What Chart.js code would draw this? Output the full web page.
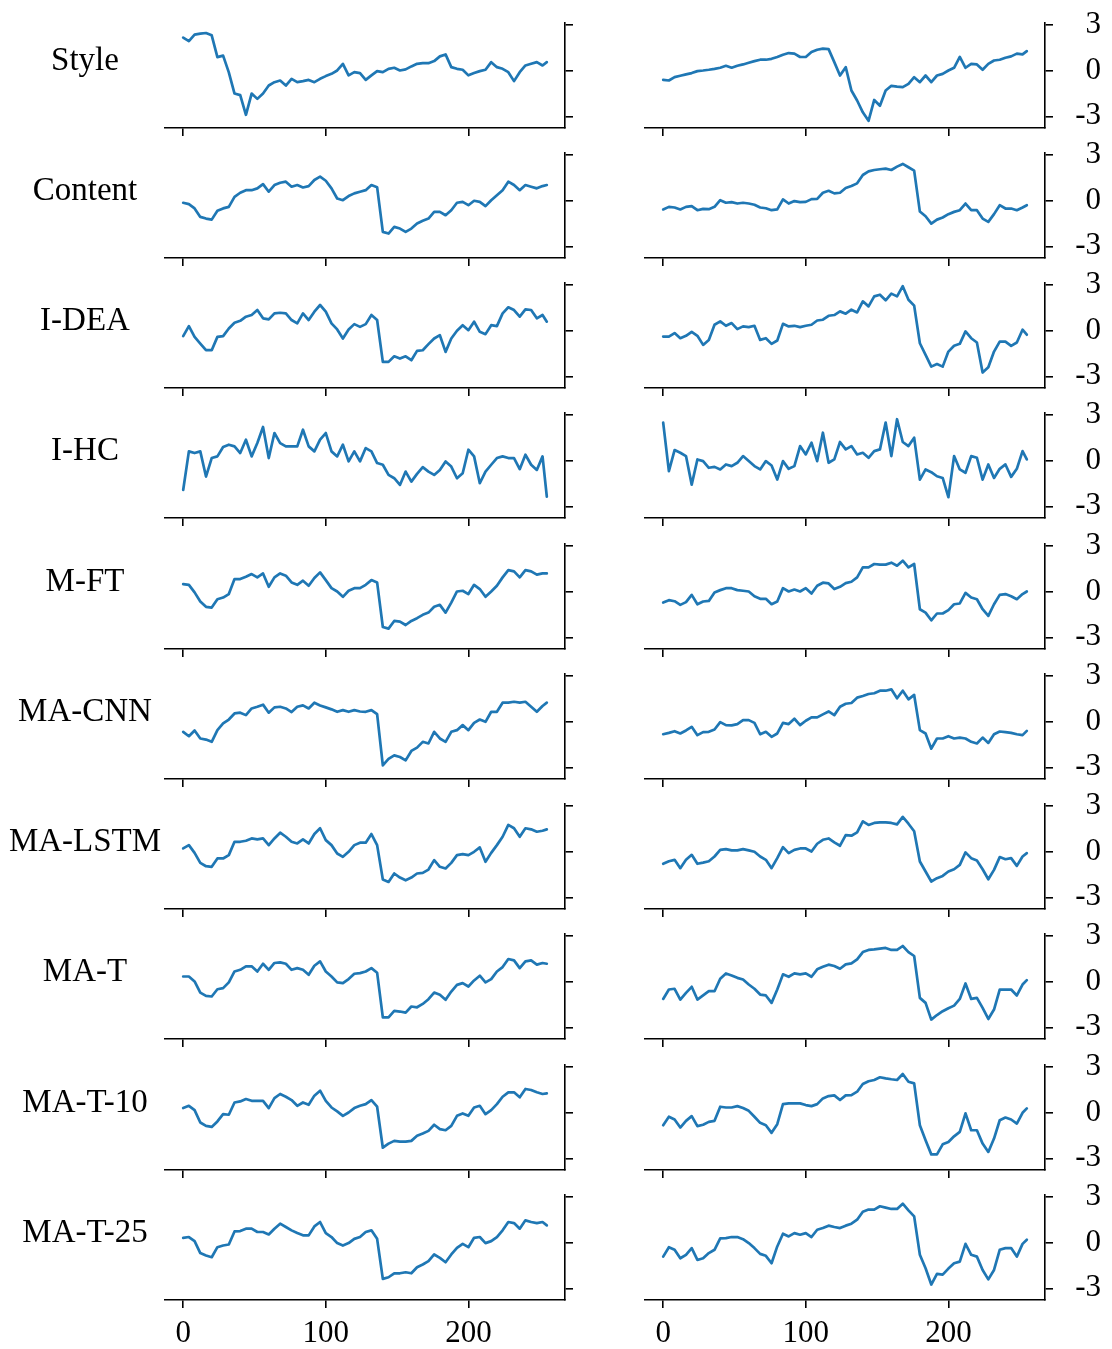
<!DOCTYPE html>
<html><head><meta charset="utf-8">
<script src="https://cdn.jsdelivr.net/npm/chart.js@4.4.1/dist/chart.umd.min.js"></script>
<style>
html,body{margin:0;padding:0;background:#fff;overflow:hidden;}
body{width:1112px;height:1349px;position:relative;}
canvas{position:absolute;}
</style></head><body>
<script>
const steps = [0,4,8,12,16,20,24,28,32,36,40,44,48,52,56,60,64,68,72,76,80,84,88,92,96,100,104,108,112,116,120,124,128,132,136,140,144,148,152,156,160,164,168,172,176,180,184,188,192,196,200,204,208,212,216,220,224,228,232,236,240,244,248,252,255];

const rowLabels = ['Style','Content','I-DEA','I-HC','M-FT','MA-CNN','MA-LSTM','MA-T','MA-T-10','MA-T-25'];
const xTicks = [0,100,200];
const xTickLabels = ['0','100','200'];
const yTicks = [-3,0,3];
const yTickLabels = ['-3','0','3'];

// left column
const styleL = [2.19,1.96,2.38,2.45,2.49,2.34,0.9,1.0,-0.1,-1.5,-1.6,-2.9,-1.5,-1.85,-1.5,-0.97,-0.75,-0.64,-0.97,-0.53,-0.75,-0.68,-0.6,-0.75,-0.53,-0.35,-0.2,0.02,0.46,-0.3,-0.09,-0.15,-0.6,-0.3,-0.02,-0.09,0.13,0.2,0.02,0.09,0.29,0.46,0.5,0.5,0.64,0.95,1.08,0.24,0.13,0.07,-0.3,-0.15,-0.02,0.07,0.57,0.24,0.13,-0.09,-0.68,-0.09,0.35,0.46,0.57,0.35,0.57];
const contentL = [-0.13,-0.22,-0.5,-1.06,-1.17,-1.24,-0.66,-0.5,-0.4,0.26,0.53,0.7,0.7,0.82,1.1,0.6,1.04,1.19,1.26,0.93,1.04,0.88,0.97,1.37,1.59,1.32,0.82,0.15,0.04,0.31,0.49,0.6,0.7,1.04,0.9,-2.05,-2.16,-1.72,-1.83,-2.05,-1.83,-1.5,-1.32,-1.17,-0.73,-0.73,-0.95,-0.62,-0.13,-0.07,-0.29,0,-0.07,-0.35,0.04,0.37,0.7,1.26,1.04,0.7,1.04,0.93,0.82,0.97,1.04];
const ideaL = [-0.35,0.31,-0.4,-0.84,-1.28,-1.28,-0.4,-0.35,0.15,0.53,0.66,0.93,1.04,1.37,0.82,0.75,1.15,1.19,1.15,0.71,0.49,1.15,0.71,1.26,1.7,1.26,0.49,0.09,-0.51,0.09,0.44,0.26,0.44,1.04,0.71,-2.05,-2.05,-1.68,-1.83,-1.68,-1.94,-1.32,-1.28,-0.88,-0.51,-0.29,-1.39,-0.51,0,0.37,0.04,0.6,-0.07,-0.22,0.37,0.31,1.15,1.55,1.37,0.93,1.41,1.37,0.82,1.04,0.6];
const hcL = [-1.92,0.62,0.51,0.62,-1.04,0.18,0.29,0.91,1.06,0.95,0.51,1.39,0.29,1.17,2.23,0.18,1.83,1.17,0.95,0.95,0.95,2.05,0.95,0.62,1.39,1.83,0.62,0.29,1.06,-0.04,0.62,-0.04,0.84,0.62,-0.15,-0.26,-0.93,-1.15,-1.59,-0.71,-1.37,-0.86,-0.42,-0.71,-0.93,-0.6,-0.04,-0.38,-1.15,-0.82,0.73,0.29,-1.48,-0.71,-0.26,0.18,0.29,0.18,0.18,-0.55,0.4,-0.26,-0.6,0.29,-2.36];
const mftL = [0.51,0.46,-0.04,-0.64,-0.99,-1.04,-0.49,-0.38,-0.15,0.84,0.84,0.99,1.17,0.95,1.21,0.33,0.95,1.21,1.06,0.62,0.46,0.73,0.4,0.91,1.28,0.77,0.24,0.02,-0.33,0.07,0.24,0.24,0.46,0.77,0.62,-2.32,-2.43,-1.92,-1.96,-2.19,-1.92,-1.74,-1.52,-1.37,-0.99,-0.86,-1.37,-0.71,0.02,0.07,-0.15,0.46,0.18,-0.33,0.02,0.4,0.95,1.43,1.35,0.95,1.43,1.35,1.13,1.21,1.21];
const cnnL = [-0.66,-0.95,-0.57,-1.1,-1.17,-1.32,-0.55,-0.11,0.15,0.55,0.6,0.44,0.88,0.99,1.13,0.6,0.95,0.99,0.88,0.64,0.99,1.08,0.88,1.26,1.08,0.95,0.82,0.66,0.77,0.66,0.77,0.68,0.66,0.77,0.5,-2.87,-2.45,-2.21,-2.32,-2.54,-1.92,-1.7,-1.32,-1.43,-0.66,-1.1,-1.32,-0.66,-0.55,-0.22,-0.55,-0.07,0.15,0,0.66,0.66,1.26,1.26,1.32,1.26,1.32,0.99,0.66,1.04,1.26];
const lstmL = [0.22,0.44,-0.07,-0.73,-0.95,-0.99,-0.44,-0.44,-0.22,0.66,0.66,0.73,0.88,0.82,0.88,0.44,0.88,1.26,0.99,0.66,0.55,0.82,0.55,1.17,1.55,0.77,0.44,-0.11,-0.33,0,0.44,0.6,0.6,1.17,0.44,-1.83,-1.99,-1.43,-1.7,-1.88,-1.7,-1.43,-1.39,-1.17,-0.55,-0.99,-1.1,-0.73,-0.22,-0.15,-0.22,0,0.29,-0.66,-0.07,0.44,0.99,1.77,1.55,0.99,1.55,1.48,1.32,1.39,1.48];
const maTL = [0.35,0.35,0.02,-0.71,-0.93,-0.97,-0.49,-0.42,-0.04,0.68,0.79,1.02,1.02,0.68,1.19,0.79,1.24,1.28,1.19,0.79,0.9,0.79,0.46,1.06,1.35,0.68,0.35,-0.04,-0.09,0.18,0.53,0.57,0.68,0.9,0.6,-2.34,-2.34,-1.92,-1.96,-2.03,-1.63,-1.68,-1.46,-1.15,-0.71,-0.86,-1.19,-0.64,-0.2,-0.09,-0.31,0.09,0.4,-0.04,0.18,0.68,0.97,1.5,1.41,0.9,1.35,1.41,1.13,1.24,1.19];
const t10L = [0.31,0.46,0.18,-0.64,-0.86,-0.93,-0.57,-0.09,-0.13,0.68,0.75,0.91,0.79,0.79,0.79,0.31,0.97,1.24,1.06,0.84,0.46,0.68,0.53,1.13,1.46,0.79,0.35,0.09,-0.2,0.02,0.31,0.46,0.57,0.84,0.4,-2.3,-2.03,-1.85,-1.9,-1.9,-1.85,-1.52,-1.37,-1.19,-0.79,-1.08,-1.15,-0.86,-0.2,-0.04,-0.2,0.35,0.46,-0.09,0.18,0.57,1.06,1.35,1.35,1.02,1.57,1.5,1.35,1.24,1.28];
const t25L = [0.33,0.38,0.11,-0.68,-0.84,-0.95,-0.29,-0.18,-0.11,0.75,0.77,0.93,0.93,0.71,0.71,0.55,0.93,1.26,1.04,0.82,0.64,0.49,0.49,1.08,1.37,0.64,0.38,-0.02,-0.18,-0.02,0.26,0.38,0.71,0.82,0.26,-2.38,-2.27,-2.01,-2.01,-1.94,-2.01,-1.61,-1.43,-1.21,-0.77,-0.99,-1.28,-0.77,-0.33,-0.07,-0.29,0.33,0.38,-0.02,0.11,0.38,0.82,1.37,1.3,0.93,1.48,1.37,1.3,1.37,1.15];

// right column
const styleR = [-0.6,-0.64,-0.42,-0.33,-0.24,-0.15,-0.02,0.02,0.07,0.13,0.2,0.33,0.2,0.33,0.42,0.53,0.64,0.73,0.73,0.79,0.91,1.06,1.17,1.13,0.91,0.91,1.24,1.39,1.46,1.43,0.57,-0.31,0.24,-1.3,-1.96,-2.74,-3.3,-1.92,-2.3,-1.3,-0.99,-1.04,-1.08,-0.86,-0.42,-0.75,-0.31,-0.75,-0.31,-0.2,0.02,0.2,0.91,0.2,0.46,0.42,0.07,0.46,0.68,0.73,0.86,0.95,1.13,1.08,1.3];
const contentR = [-0.57,-0.4,-0.44,-0.57,-0.4,-0.35,-0.62,-0.53,-0.55,-0.4,0.04,-0.13,-0.09,-0.18,-0.13,-0.18,-0.26,-0.44,-0.49,-0.62,-0.57,0.09,-0.18,-0.02,-0.09,-0.07,0.11,0.13,0.53,0.66,0.49,0.53,0.84,0.97,1.15,1.7,1.94,2.03,2.08,2.12,2.03,2.25,2.43,2.21,1.99,-0.71,-1.02,-1.5,-1.24,-1.1,-0.88,-0.73,-0.62,-0.18,-0.62,-0.62,-1.17,-1.39,-0.88,-0.29,-0.51,-0.51,-0.62,-0.44,-0.29];
const ideaR = [-0.38,-0.38,-0.15,-0.49,-0.33,-0.07,-0.33,-0.93,-0.6,0.4,0.62,0.33,0.51,0.11,0.29,0.24,0.33,-0.6,-0.49,-0.86,-0.64,0.46,0.29,0.33,0.24,0.33,0.4,0.68,0.73,0.99,1.04,1.28,1.13,1.39,1.21,1.94,1.61,2.27,2.38,2.01,2.45,2.27,2.94,2.05,1.66,-0.82,-1.59,-2.36,-2.19,-2.36,-1.37,-0.99,-0.86,-0.04,-0.49,-0.77,-2.75,-2.4,-1.37,-0.71,-0.71,-0.99,-0.77,0.07,-0.26];
const hcR = [2.52,-0.68,0.71,0.53,0.31,-1.57,0.09,-0.02,-0.46,-0.4,-0.57,-0.24,-0.35,-0.13,0.31,-0.02,-0.35,-0.57,-0.02,-0.31,-1.24,-0.02,-0.53,-0.35,0.97,0.42,1.19,-0.02,1.85,-0.13,0.09,1.24,0.75,0.97,0.42,0.53,0.2,0.64,0.75,2.52,0.31,2.74,1.24,0.97,1.52,-1.24,-0.57,-0.75,-1.02,-1.13,-2.4,0.31,-0.57,-0.79,0.31,0.2,-1.24,-0.24,-1.13,-0.53,-0.24,-1.06,-0.53,0.64,0.09];
const mftR = [-0.71,-0.55,-0.62,-0.86,-0.68,-0.2,-0.82,-0.64,-0.6,-0.04,0.11,0.24,0.24,0.11,0.07,0.02,-0.29,-0.46,-0.46,-0.82,-0.64,0.24,0.02,0.15,0.02,0.24,-0.11,0.4,0.6,0.55,0.18,0.33,0.57,0.66,0.95,1.61,1.61,1.83,1.79,1.79,1.92,1.72,2.05,1.61,1.83,-1.15,-1.37,-1.88,-1.43,-1.43,-1.21,-0.82,-0.77,-0.07,-0.38,-0.49,-1.15,-1.59,-0.82,-0.2,-0.15,-0.29,-0.49,-0.15,0.02];
const cnnR = [-0.82,-0.73,-0.62,-0.77,-0.57,-0.33,-0.88,-0.68,-0.66,-0.51,-0.02,-0.22,-0.24,-0.15,0.11,0.11,-0.07,-0.82,-0.66,-0.99,-0.77,-0.07,-0.15,0.2,-0.22,0.07,0.29,0.29,0.49,0.68,0.44,0.99,1.19,1.24,1.59,1.7,1.83,1.88,2.05,2.05,2.14,1.55,2.05,1.48,1.77,-0.55,-0.77,-1.77,-1.1,-1.1,-0.95,-1.1,-1.04,-1.1,-1.32,-1.43,-1.04,-1.39,-0.82,-0.64,-0.68,-0.73,-0.82,-0.88,-0.6];
const lstmR = [-0.79,-0.62,-0.53,-1.08,-0.53,-0.2,-0.79,-0.71,-0.62,-0.31,0.13,0.18,0.09,0.09,0.18,0.09,0,-0.31,-0.53,-1.08,-0.42,0.31,-0.09,0.13,0.22,0.22,0.02,0.53,0.79,0.88,0.62,0.4,1.1,1.06,1.28,2.01,1.77,1.9,1.94,1.94,1.9,1.81,2.3,1.85,1.35,-0.64,-1.3,-1.96,-1.74,-1.59,-1.3,-1.15,-0.86,-0.04,-0.42,-0.57,-1.15,-1.81,-1.19,-0.35,-0.49,-0.42,-0.93,-0.31,-0.09];
const maTR = [-1.13,-0.51,-0.46,-1.17,-0.73,-0.33,-1.17,-0.9,-0.62,-0.62,0.2,0.55,0.42,0.26,0.15,-0.18,-0.46,-0.84,-0.9,-1.39,-0.51,0.49,0.33,0.55,0.49,0.55,0.33,0.82,0.99,1.13,1.04,0.86,1.15,1.21,1.48,1.96,2.1,2.14,2.19,2.23,2.1,2.1,2.36,1.96,1.7,-1.06,-1.39,-2.49,-2.19,-1.94,-1.74,-1.57,-1.13,-0.11,-1.13,-1.06,-1.72,-2.45,-1.83,-0.51,-0.51,-0.51,-0.9,-0.18,0.11];
const t10R = [-0.82,-0.26,-0.44,-0.97,-0.53,-0.22,-0.88,-0.79,-0.6,-0.53,0.4,0.35,0.35,0.44,0.31,0.13,-0.26,-0.66,-0.82,-1.32,-0.75,0.57,0.62,0.62,0.62,0.51,0.44,0.57,0.95,1.1,1.15,0.84,1.15,1.17,1.39,1.9,2.08,2.16,2.34,2.27,2.21,2.16,2.56,2.05,1.94,-0.82,-1.81,-2.74,-2.74,-2.08,-1.92,-1.55,-1.26,-0.04,-1.15,-1.15,-2.03,-2.58,-1.7,-0.49,-0.31,-0.44,-0.71,0,0.29];
const t25R = [-0.91,-0.29,-0.46,-1.02,-0.79,-0.35,-1.13,-1.02,-0.68,-0.46,0.29,0.31,0.38,0.38,0.24,-0.02,-0.35,-0.73,-0.86,-1.35,-0.24,0.6,0.42,0.64,0.53,0.64,0.38,0.86,0.97,1.13,1.04,0.97,1.13,1.26,1.52,2.05,2.19,2.19,2.41,2.32,2.23,2.23,2.58,2.14,1.74,-0.79,-1.68,-2.75,-2.05,-2.1,-1.7,-1.35,-1.24,-0.07,-0.79,-0.91,-1.79,-2.41,-1.79,-0.46,-0.35,-0.35,-0.91,-0.07,0.2];

const leftSeries = [styleL,contentL,ideaL,hcL,mftL,cnnL,lstmL,maTL,t10L,t25L];
const rightSeries = [styleR,contentR,ideaR,hcR,mftR,cnnR,lstmR,maTR,t10R,t25R];

Chart.defaults.font.family = '"Liberation Serif", "Times New Roman", serif';
const LINE = '#1f77b4';
const ROW_PITCH = 130.25, TOP0 = 22.7, AREA_H = 105, PAD_TOP = 45;

function makePanel(col, row) {
  const isBottom = row === 9;
  const xH = isBottom ? 50 : 12;
  const padBottom = isBottom ? 0 : 35;
  const left = col === 0 ? 0 : 640;
  const padLeft = col === 0 ? 165 : 5;
  const yW = col === 0 ? 12 : 56;
  const w = padLeft + 400 + yW;
  const h = PAD_TOP + AREA_H + xH + padBottom;
  const top = Math.round(TOP0 + ROW_PITCH * row) - PAD_TOP;
  const c = document.createElement('canvas');
  c.width = w; c.height = h;
  c.style.left = left + 'px'; c.style.top = top + 'px';
  c.style.width = w + 'px'; c.style.height = h + 'px';
  document.body.appendChild(c);
  const vals = (col === 0 ? leftSeries : rightSeries)[row];
  const gridOpts = {display: true, drawOnChartArea: false, drawTicks: true, tickLength: 8, color: '#000', lineWidth: 1.6};
  const borderOpts = {display: true, color: '#000', width: 1.6};
  const plugins = [];
  if (col === 0) {
    plugins.push({
      id: 'rowLabel',
      afterDraw(chart) {
        const ctx = chart.ctx;
        ctx.save();
        ctx.font = '33px "Liberation Serif", serif';
        ctx.fillStyle = '#000';
        ctx.textAlign = 'center';
        ctx.textBaseline = 'alphabetic';
        ctx.fillText(rowLabels[row], 85, chart.scales.y.getPixelForValue(0) - 1);
        ctx.restore();
      }
    });
  }
  new Chart(c, {
    type: 'line',
    data: {datasets: [{
      data: steps.map((x, i) => ({x: x, y: vals[i]})),
      borderColor: LINE, borderWidth: 2.7, pointRadius: 0, tension: 0, fill: false,
      borderJoinStyle: 'round', borderCapStyle: 'round'
    }]},
    options: {
      responsive: false, animation: false, events: [],
      layout: {padding: {left: padLeft, top: PAD_TOP, right: 0, bottom: padBottom}},
      plugins: {legend: {display: false}, tooltip: {enabled: false}, title: {display: false}},
      scales: {
        x: {
          type: 'linear', position: 'bottom', min: -12.75, max: 267.75,
          afterBuildTicks: s => { s.ticks = xTicks.map(v => ({value: v})); },
          afterFit: s => { s.height = xH; },
          grid: gridOpts, border: borderOpts,
          ticks: {display: isBottom, font: {size: 31}, color: '#000', padding: 7, maxRotation: 0, autoSkip: false,
                  callback: v => xTickLabels[xTicks.indexOf(v)]}
        },
        y: {
          type: 'linear', position: 'right', min: -3.77, max: 3.15,
          afterBuildTicks: s => { s.ticks = yTicks.map(v => ({value: v})); },
          afterFit: s => { s.width = yW; },
          grid: gridOpts, border: borderOpts,
          ticks: {display: col === 1, font: {size: 31}, color: '#000', padding: 13, crossAlign: 'far', autoSkip: false,
                  callback: v => yTickLabels[yTicks.indexOf(v)]}
        }
      }
    },
    plugins: plugins
  });
}

for (let r = 0; r < 10; r++) { makePanel(0, r); makePanel(1, r); }
</script>
</body></html>
